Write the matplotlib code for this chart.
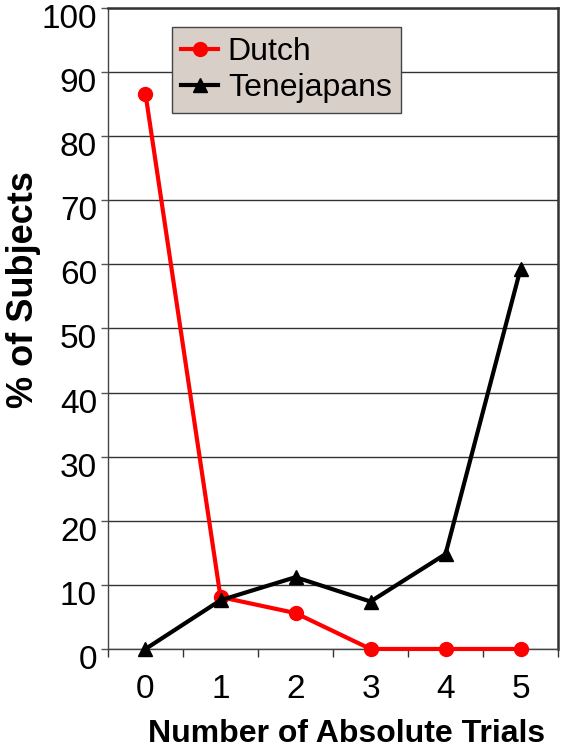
import matplotlib
matplotlib.use("Agg")
import matplotlib.pyplot as plt
import matplotlib.transforms as mtransforms
from matplotlib.ticker import MultipleLocator

plt.rcParams["font.family"] = ["Liberation Sans", "DejaVu Sans"]

# data
trials = [0, 1, 2, 3, 4, 5]
dutch = [86.6, 8.1, 5.6, 0, 0, 0]
tenejapans = [0, 7.6, 11.2, 7.4, 14.8, 59.3]
tick_labels = ["0", "1", "2", "3", "4", "5"]


def main():
    fig = plt.figure(figsize=(5.61, 7.54), dpi=100)
    ax = fig.add_axes([0.1925, 0.1393, 0.8022, 0.8501])

    ax.plot(trials, dutch, color="#ff0000", lw=3, marker="o", ms=10,
            label="Dutch", zorder=3, clip_on=False)
    ax.plot(trials, tenejapans, color="black", lw=3, marker="^", ms=10,
            label="Tenejapans", zorder=4, clip_on=False)

    ax.set_xlim(-0.5, 5.5)
    ax.set_ylim(0, 100)
    ax.yaxis.set_major_locator(MultipleLocator(10))
    ax.grid(axis="y", color="#333333", lw=1)
    ax.set_axisbelow(True)

    # categories in the middle, tick marks on the boundaries
    ax.set_xticks(trials)
    ax.set_xticklabels(tick_labels)
    ax.set_xticks([x - 0.5 for x in trials] + [5.5], minor=True)
    ax.tick_params(axis="x", which="major", length=0, pad=18, labelsize=24)
    ax.tick_params(axis="x", which="minor", length=6, width=1, color="#333333", direction="out")
    ax.tick_params(axis="y", length=5, width=1, color="#555555", pad=3, labelsize=24)

    # y labels sit a little below their ticks in the original
    shift = mtransforms.ScaledTranslation(0, -8 / 100, fig.dpi_scale_trans)
    for lab in ax.get_yticklabels():
        lab.set_transform(lab.get_transform() + shift)

    for side in ["left", "bottom"]:
        ax.spines[side].set_color("#444444")
        ax.spines[side].set_linewidth(1)
    for side in ["top", "right"]:
        ax.spines[side].set_color("#333333")
        ax.spines[side].set_linewidth(1.8)

    ax.set_xlabel("Number of Absolute Trials", fontsize=23, fontweight="bold")
    ax.xaxis.set_label_coords(0.53, -0.109)
    ax.set_ylabel("% of Subjects", fontsize=26, fontweight="bold")
    ax.yaxis.set_label_coords(-0.149, 0.56)

    leg = ax.legend(loc="upper left", bbox_to_anchor=(0.142, 0.97), fontsize=23,
                    frameon=True, fancybox=False, framealpha=1, borderpad=0.3,
                    handlelength=1.15, handletextpad=0.3, labelspacing=0.2,
                    borderaxespad=0)
    leg.get_frame().set_facecolor("#d8d0c8")
    leg.get_frame().set_edgecolor("#444444")
    leg.get_frame().set_linewidth(1)

    fig.savefig("out.png", dpi=100)


if __name__ == "__main__":
    main()
